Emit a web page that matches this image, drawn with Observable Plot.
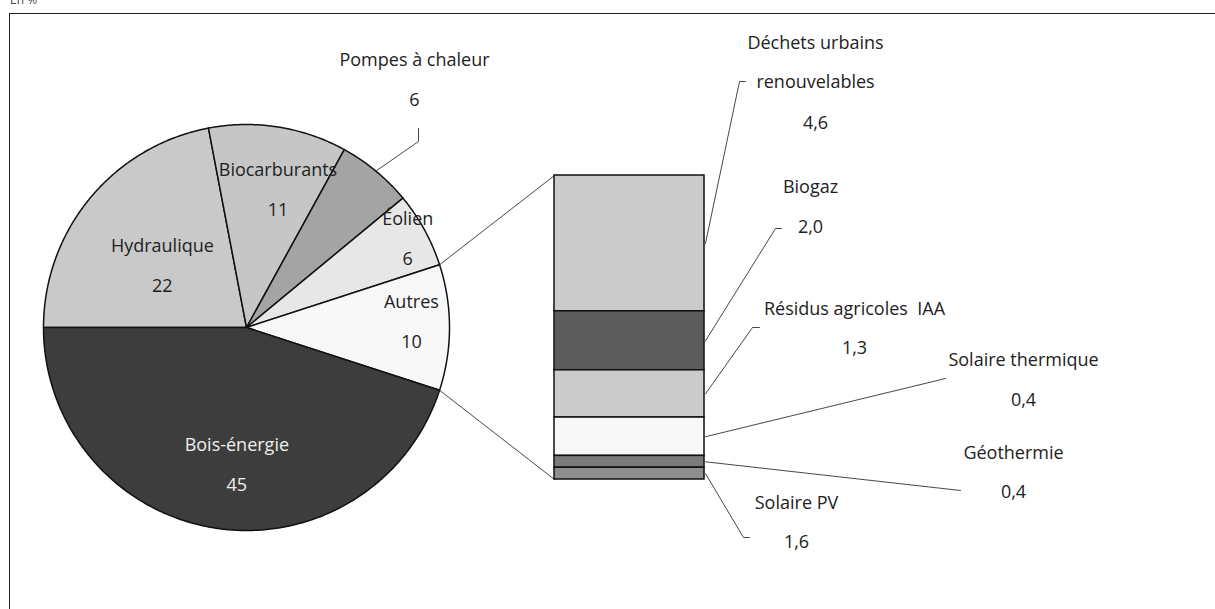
<!DOCTYPE html>
<html><head><meta charset="utf-8">
<script src="https://cdn.jsdelivr.net/npm/d3@7"></script>
<script src="https://cdn.jsdelivr.net/npm/@observablehq/plot@0.6"></script>
<style>
html,body{margin:0;padding:0;background:#fff;}
#wrap{position:relative;width:1215px;height:609px;overflow:hidden;font-family:"Open Sans",sans-serif;}
#frame{position:absolute;left:9px;top:13px;width:1300px;height:700px;border-left:1.5px solid #222;border-top:1.5px solid #222;}
#unit{position:absolute;left:10px;top:-7px;font-size:12px;line-height:14px;color:#444;}
#chart{position:absolute;left:0;top:0;}
</style></head><body>
<div id="wrap"><div id="frame"></div><div id="unit">En %</div><div id="chart"></div></div>
<script>
// ---- Data ----
// Pie slices, clockwise starting at 9 o'clock
const pieCategories = ["Hydraulique", "Biocarburants", "Pompes à chaleur", "Éolien", "Autres", "Bois-énergie"];
const pieValues = [22, 11, 6, 6, 10, 45];
const pieValueLabels = ["22", "11", "6", "6", "10", "45"];
// Breakdown of "Autres" as drawn in the bar, top to bottom
const barCategories = ["Déchets urbains renouvelables", "Biogaz", "Solaire PV", "Résidus agricoles IAA", "Géothermie", "Solaire thermique"];
const barValues = [4.6, 2.0, 1.6, 1.3, 0.4, 0.4];
// Bar labels as printed, top to bottom (leader i points at bar segment i)
const barLabelNames = [["Déchets urbains", "renouvelables"], ["Biogaz"], ["Résidus agricoles  IAA"], ["Solaire thermique"], ["Géothermie"], ["Solaire PV"]];
const barLabelValues = ["4,6", "2,0", "1,3", "0,4", "0,4", "1,6"];

// ---- Styles / layout ----
const pieFills = ["#c9c9c9", "#c6c6c6", "#a4a4a4", "#e7e7e7", "#f8f8f8", "#3d3d3d"];
const pieTextFills = ["#222", "#222", "#222", "#222", "#222", "#eeeeee"];
const barFills = ["#cbcbcb", "#5c5c5c", "#cbcbcb", "#f8f8f8", "#7b7b7b", "#8e8e8e"];
const W = 1215, H = 609, FS = 18;
const cx = 246, cy = 327, R = 203;
const bar = {left: 554, right: 704, top: 175, bottom: 479};
// inside label radius / angular nudge per slice (null = outside label)
const pieLabelRadius = [104, 141, null, 184, 165, 138];
const pieLabelNudge = [-0.063, 0.068, 0, 0, -0.03, -0.087];
const outsideLabel = {x: 414, nameY: 60, valueY: 100, elbow: [418, 141], end: [418, 128]};
// right-hand label layout: text centre x, line y's, value y, leader start points
const barLabelLayout = [
  {x: 815, ys: [43, 82], vy: 123, lead: [[745, 81], [739, 81]]},
  {x: 810, ys: [187], vy: 227, lead: [[781, 228], [775, 228]]},
  {x: 854, ys: [309], vy: 348, lead: [[759, 327], [752, 327]]},
  {x: 1023, ys: [360], vy: 400, lead: [[945, 378]]},
  {x: 1013, ys: [453], vy: 492, lead: [[960, 490]]},
  {x: 796, ys: [503], vy: 542, lead: [[749, 537], [743, 537]]}
];

// ---- Geometry from data ----
const arcs = d3.pie().sort(null).startAngle(-Math.PI / 2).endAngle(1.5 * Math.PI)(pieValues);
const pt = (a, r) => [cx + r * Math.sin(a), cy - r * Math.cos(a)];
const slices = arcs.map((a, i) => {
  const pts = [[cx, cy]];
  const n = Math.max(2, Math.ceil((a.endAngle - a.startAngle) / 0.01));
  for (let k = 0; k <= n; k++) pts.push(pt(a.startAngle + (a.endAngle - a.startAngle) * k / n, R));
  pts.push([cx, cy]);
  return pts.map(([x, y]) => ({x, y, cat: pieCategories[i]}));
});
const pieText = [];
arcs.forEach((a, i) => {
  const r = pieLabelRadius[i];
  if (r == null) return;
  const [x, y] = pt((a.startAngle + a.endAngle) / 2 + pieLabelNudge[i], r);
  pieText.push({x, y: y - 20, t: pieCategories[i], fill: pieTextFills[i]});
  pieText.push({x, y: y + 20, t: pieValueLabels[i], fill: pieTextFills[i]});
});
const outIdx = pieLabelRadius.indexOf(null);
const outArc = arcs[outIdx];
const outLeader = [pt((outArc.startAngle + outArc.endAngle) / 2, R), outsideLabel.elbow, outsideLabel.end].map(([x, y]) => ({x, y}));
pieText.push({x: outsideLabel.x, y: outsideLabel.nameY, t: pieCategories[outIdx], fill: "#222"});
pieText.push({x: outsideLabel.x, y: outsideLabel.valueY, t: pieValueLabels[outIdx], fill: "#222"});

// "Autres" slice connects to the bar
const autresArc = arcs[pieCategories.indexOf("Autres")];
const connectors = [
  [pt(autresArc.startAngle, R), [bar.left, bar.top]],
  [pt(autresArc.endAngle, R), [bar.left, bar.bottom]]
].map(seg => seg.map(([x, y]) => ({x, y})));

const total = d3.sum(barValues);
const by = d3.scaleLinear().domain([0, total]).range([bar.top, bar.bottom]);
const cum = d3.cumsum(barValues);
const segs = barValues.map((v, i) => ({cat: barCategories[i], y1: by(cum[i] - v), y2: by(cum[i]), fill: barFills[i], x1: bar.left, x2: bar.right}));

const barText = [];
const leaders = [];
barLabelLayout.forEach((L, i) => {
  barLabelNames[i].forEach((t, j) => barText.push({x: L.x, y: L.ys[j], t}));
  barText.push({x: L.x, y: L.vy, t: barLabelValues[i]});
  const s = segs[i];
  leaders.push([...L.lead, [bar.right + 1, (s.y1 + s.y2) / 2]].map(([x, y]) => ({x, y})));
});

const marks = [];
slices.forEach((s, i) => marks.push(Plot.line(s, {x: "x", y: "y", fill: pieFills[i], stroke: "#111", strokeWidth: 1.5, curve: "linear"})));
connectors.forEach(c => marks.push(Plot.line(c, {x: "x", y: "y", stroke: "#333", strokeWidth: 0.9})));
marks.push(Plot.line(outLeader, {x: "x", y: "y", stroke: "#333", strokeWidth: 0.9}));
marks.push(Plot.rect(segs, {x1: "x1", x2: "x2", y1: "y1", y2: "y2", fill: "fill", stroke: "#111", strokeWidth: 1.5}));
leaders.forEach(l => marks.push(Plot.line(l, {x: "x", y: "y", stroke: "#333", strokeWidth: 0.9})));
marks.push(Plot.text(pieText, {x: "x", y: "y", text: "t", fill: "fill", fontSize: FS, textAnchor: "middle", lineAnchor: "middle"}));
marks.push(Plot.text(barText, {x: "x", y: "y", text: "t", fill: "#222", fontSize: FS, textAnchor: "middle", lineAnchor: "middle"}));

const chart = Plot.plot({
  width: W, height: H, margin: 0,
  x: {domain: [0, W], range: [0, W], axis: null},
  y: {domain: [0, H], range: [0, H], axis: null},
  style: {fontFamily: "Open Sans, sans-serif", background: "transparent", overflow: "visible"},
  marks
});
document.getElementById("chart").appendChild(chart);
</script>
</body></html>
